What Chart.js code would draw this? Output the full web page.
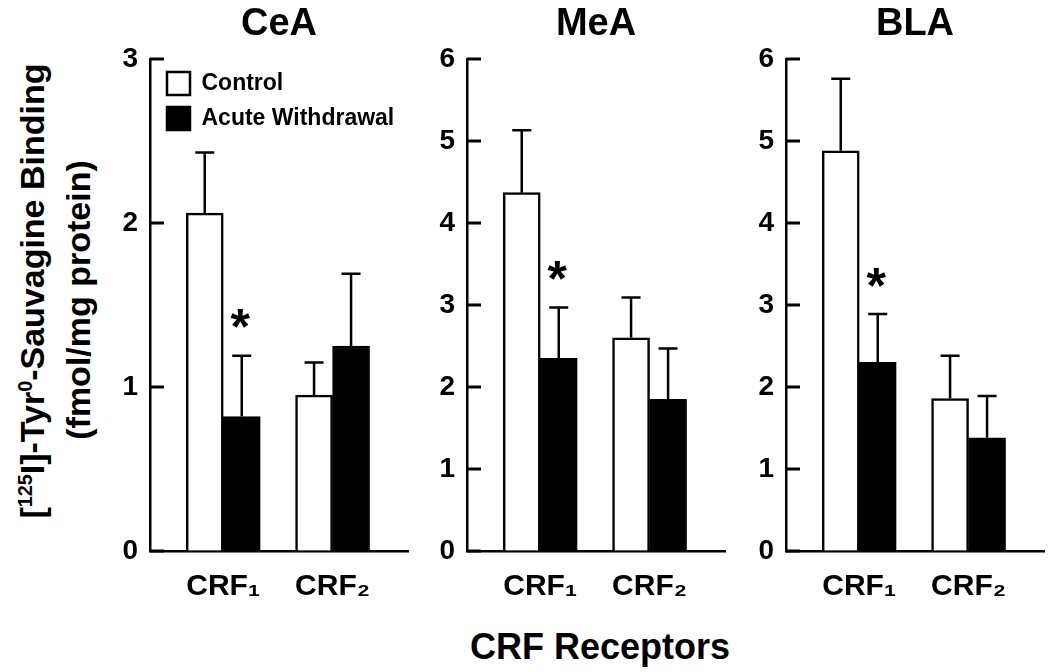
<!DOCTYPE html>
<html>
<head>
<meta charset="utf-8">
<script src="https://cdn.jsdelivr.net/npm/chart.js@4.4.0/dist/chart.umd.min.js"></script>
<style>
  body { margin: 0; background: #fff; }
  #wrap { position: relative; width: 1050px; height: 672px; overflow: hidden;
          font-family: "Liberation Sans", Arial, sans-serif; font-weight: bold; color: #000; }
  .panel { position: absolute; top: 0; width: 322px; height: 620px; }
  #ytitle { position: absolute; left: -245.5px; top: 245px; width: 600px; height: 92px;
            transform: rotate(-90deg); text-align: center; font-size: 34px; line-height: 46px; white-space: nowrap; }
  #ytitle sup { font-size: 0.58em; vertical-align: 0.6em; line-height: 0; }
  #ytitle .l1 { position: relative; left: 0px; }
  #ytitle .l2 { position: relative; left: -9px; }
  #xtitle { position: absolute; left: 400px; top: 629px; width: 400px; text-align: center;
            font-size: 36px; line-height: 36px; }
</style>
</head>
<body>
<div id="wrap">
  <div id="ytitle"><div class="l1">[<sup>125</sup>I]-Tyr<sup>0</sup>-Sauvagine Binding</div><div class="l2">(fmol/mg protein)</div></div>
  <div class="panel" style="left:90px"><canvas id="c0"></canvas></div>
  <div class="panel" style="left:407px"><canvas id="c1"></canvas></div>
  <div class="panel" style="left:726px"><canvas id="c2"></canvas></div>
  <div id="xtitle">CRF Receptors</div>
</div>
<script>
// data (mean and SEM, fmol/mg protein)
var regions = ['CeA', 'MeA', 'BLA'];
var receptors = ['CRF\u2081', 'CRF\u2082'];
var yMax = [3, 6, 6];

var controlCeA = [2.06, 0.95];
var acuteCeA = [0.82, 1.25];
var controlSemCeA = [0.37, 0.20];
var acuteSemCeA = [0.37, 0.44];

var controlMeA = [4.37, 2.60];
var acuteMeA = [2.35, 1.85];
var controlSemMeA = [0.76, 0.49];
var acuteSemMeA = [0.62, 0.62];

var controlBLA = [4.88, 1.86];
var acuteBLA = [2.30, 1.38];
var controlSemBLA = [0.88, 0.52];
var acuteSemBLA = [0.59, 0.51];

// acute withdrawal differs from control (asterisk)
var significant = [true, false];

var controls = [controlCeA, controlMeA, controlBLA];
var acutes = [acuteCeA, acuteMeA, acuteBLA];
var controlSems = [controlSemCeA, controlSemMeA, controlSemBLA];
var acuteSems = [acuteSemCeA, acuteSemMeA, acuteSemBLA];

Chart.defaults.font.family = '"Liberation Sans", Arial, sans-serif';
Chart.defaults.font.weight = 'bold';
Chart.defaults.color = '#000';

// inward y ticks, SEM whiskers (upper only) and the asterisk
var errorBars = {
	id: 'errorBars',
	afterDatasetsDraw: function(chart){
		var ctx = chart.ctx;
		var ys = chart.scales.y;
		var area = chart.chartArea;
		ctx.save();
		ctx.strokeStyle = '#000';
		ctx.lineWidth = 3;
		ctx.beginPath();
		ys.ticks.forEach(function(t){
			var y = ys.getPixelForValue(t.value);
			ctx.moveTo(area.left, y);
			ctx.lineTo(area.left + 14, y);
		});
		ctx.stroke();
		ctx.lineWidth = 2.5;
		chart.data.datasets.forEach(function(ds, i){
			chart.getDatasetMeta(i).data.forEach(function(bar, j){
				var top = ys.getPixelForValue(ds.data[j].y + ds.sem[j]);
				ctx.beginPath();
				ctx.moveTo(bar.x, bar.y);
				ctx.lineTo(bar.x, top);
				ctx.moveTo(bar.x - 9.5, top);
				ctx.lineTo(bar.x + 9.5, top);
				ctx.stroke();
				if (ds.star && ds.star[j]) {
					ctx.font = 'bold 50px "Liberation Sans", Arial, sans-serif';
					ctx.fillStyle = '#000';
					ctx.textAlign = 'center';
					ctx.textBaseline = 'alphabetic';
					var m = ctx.measureText('*');
					var mid = (m.actualBoundingBoxAscent - m.actualBoundingBoxDescent) / 2;
					ctx.fillText('*', bar.x - 1.5, top - 37 + mid);
				}
			});
		});
		ctx.restore();
	}
};

// put the legend a little in from the axis
var legendNudge = {
	id: 'legendNudge',
	afterLayout: function(chart){
		var lg = chart.legend;
		if (!lg || !lg.options.display) return;
		var a = chart.chartArea;
		lg.left = a.left + 5; lg.right = a.right;
		lg.top = a.top + 1; lg.bottom = a.bottom;
		lg.width = lg.right - lg.left; lg.height = lg.bottom - lg.top;
	}
};

function makePanel(k){
	var pts = function(arr){ return arr.map(function(v, i){ return {x: i, y: v}; }); };
	new Chart(document.getElementById('c' + k), {
		type: 'bar',
		data: {
			datasets: [
				{
					label: 'Control',
					data: pts(controls[k]),
					sem: controlSems[k],
					backgroundColor: '#fff',
					borderColor: '#000',
					borderWidth: 2.5
				},
				{
					label: 'Acute Withdrawal',
					data: pts(acutes[k]),
					sem: acuteSems[k],
					star: significant,
					backgroundColor: '#000',
					borderColor: '#000',
					borderWidth: 2.5
				}
			]
		},
		options: {
			responsive: true,
			maintainAspectRatio: false,
			animation: false,
			layout: { padding: { left: 0, right: 4, top: 0, bottom: 0 } },
			datasets: { bar: { barThickness: 37, grouped: true } },
			plugins: {
				title: {
					display: true,
					text: regions[k],
					fullSize: false,
					color: '#000',
					font: { size: 38, weight: 'bold', lineHeight: 1 },
					padding: { top: 6, bottom: 15 }
				},
				legend: {
					display: k === 0,
					position: 'chartArea',
					align: 'start',
					labels: {
						boxWidth: 23,
						boxHeight: 23,
						padding: 12,
						color: '#000',
						font: { size: 23, weight: 'bold' }
					}
				},
				tooltip: { enabled: false }
			},
			scales: {
				x: {
					type: 'linear',
					min: -0.67,
					max: 1.69,
					offset: false,
					grid: { display: true, offset: false, drawOnChartArea: false, drawTicks: false },
					border: { color: '#000', width: 2.5 },
					afterBuildTicks: function(s){ s.ticks = receptors.map(function(r, i){ return {value: i}; }); },
					afterFit: function(s){ s.height = 69; },
					ticks: {
						padding: 18,
						color: '#000',
						font: { size: 30, weight: 'bold', lineHeight: 1.2 },
						callback: function(v){ return receptors[v]; }
					}
				},
				y: {
					min: 0,
					max: yMax[k],
					grid: { drawOnChartArea: false, drawTicks: false },
					border: { color: '#000', width: 2.5 },
					afterFit: function(s){ s.width = 60; },
					ticks: {
						stepSize: 1,
						padding: 12,
						color: '#000',
						font: { size: 28, weight: 'bold' }
					}
				}
			}
		},
		plugins: [errorBars, legendNudge]
	});
}

for (var k = 0; k < regions.length; k++) makePanel(k);
</script>
</body>
</html>
